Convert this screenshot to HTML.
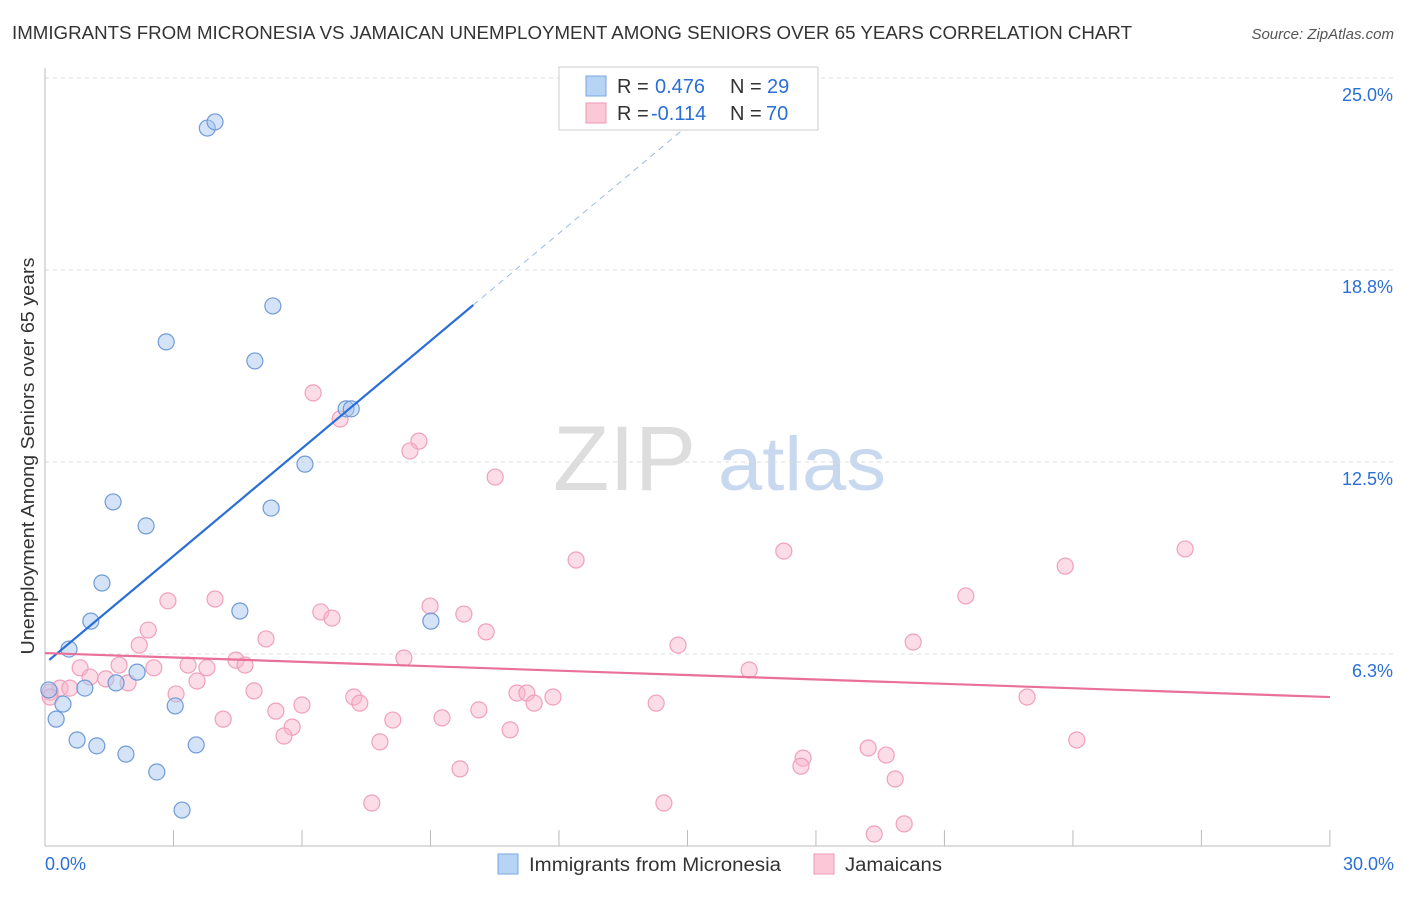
<!DOCTYPE html>
<html><head><meta charset="utf-8"><style>
body{margin:0;background:#fff;font-family:"Liberation Sans",sans-serif;}
svg text{font-family:"Liberation Sans",sans-serif;}
</style></head><body>
<svg id="chart" width="1406" height="892" xmlns="http://www.w3.org/2000/svg">
<text x="12" y="39" font-size="18" fill="#333" textLength="1120" lengthAdjust="spacingAndGlyphs">IMMIGRANTS FROM MICRONESIA VS JAMAICAN UNEMPLOYMENT AMONG SENIORS OVER 65 YEARS CORRELATION CHART</text>
<text x="1394" y="39" font-size="15" fill="#555" text-anchor="end" font-style="italic">Source: ZipAtlas.com</text>
<text transform="translate(34,456) rotate(-90)" font-size="18" fill="#333" text-anchor="middle" textLength="397" lengthAdjust="spacingAndGlyphs">Unemployment Among Seniors over 65 years</text>
<g><text x="553" y="490" font-size="92" fill="#ddd" font-family="Liberation Serif,serif">ZIP</text><text x="718" y="490" font-size="76" fill="#c8d8ef" textLength="168" lengthAdjust="spacingAndGlyphs">atlas</text></g>
<g id="grid"></g><g id="axes"></g><g id="marks"></g>
<g>
<rect x="559" y="67" width="259" height="63" fill="#fff" stroke="#ccc"/>
<rect x="586" y="76" width="20" height="20" fill="#b8d4f5" stroke="#7aa6e0"/>
<rect x="586" y="103" width="20" height="20" fill="#fbc8d8" stroke="#ee9ab4"/>
<text x="617" y="93" font-size="20" fill="#333">R =</text>
<text x="655" y="93" font-size="20" fill="#2a6fd6">0.476</text>
<text x="730" y="93" font-size="20" fill="#333">N =</text>
<text x="767" y="93" font-size="20" fill="#2a6fd6">29</text>
<text x="617" y="120" font-size="20" fill="#333">R =</text>
<text x="651" y="120" font-size="20" fill="#2a6fd6">-0.114</text>
<text x="730" y="120" font-size="20" fill="#333">N =</text>
<text x="766" y="120" font-size="20" fill="#2a6fd6">70</text>
</g>
<g>
<rect x="498" y="854" width="20" height="20" fill="#b8d4f5" stroke="#7aa6e0"/>
<text x="529" y="871" font-size="19" fill="#333" textLength="252" lengthAdjust="spacingAndGlyphs">Immigrants from Micronesia</text>
<rect x="814" y="854" width="20" height="20" fill="#fbc8d8" stroke="#ee9ab4"/>
<text x="845" y="871" font-size="19" fill="#333" textLength="97" lengthAdjust="spacingAndGlyphs">Jamaicans</text>
</g>
</svg>
<script>
const xTicks=[0,3,6,9,12,15,18,21,24,27,30];
const yTicks=[6.25,12.5,18.75,25];
const yTickLabels=["6.3%","12.5%","18.8%","25.0%"];
const blueX=[3.79,3.97,5.32,2.83,4.9,7.03,7.15,6.07,1.59,2.36,5.28,1.33,4.55,1.07,9.01,0.56,2.15,1.66,0.09,0.93,0.42,3.04,0.26,0.75,1.21,3.53,1.89,2.61,3.2];
const blueY=[23.37,23.57,17.58,16.41,15.79,14.23,14.23,12.43,11.2,10.42,11.0,8.56,7.65,7.32,7.32,6.41,5.66,5.31,5.08,5.14,4.62,4.56,4.13,3.45,3.26,3.29,2.99,2.41,1.17];
const pinkX=[6.26,6.89,8.73,8.52,10.51,12.4,17.25,26.62,23.82,21.5,2.87,3.97,8.99,9.78,6.44,6.7,2.41,10.3,5.16,2.2,14.78,20.27,0.82,1.73,2.54,3.34,3.78,4.46,4.67,8.38,16.44,1.05,1.42,1.94,3.55,0.35,0.58,0.12,3.06,4.88,7.21,7.35,11.02,11.25,11.42,11.86,10.13,14.27,22.93,6.0,5.39,4.16,5.77,8.12,9.27,5.58,10.86,7.82,24.09,17.7,19.22,19.64,17.65,9.69,19.85,7.63,14.45,19.36,20.06,0.12];
const pinkY=[14.75,13.9,13.18,12.86,12.01,9.31,9.6,9.67,9.11,8.14,7.98,8.04,7.81,7.55,7.62,7.42,7.03,6.97,6.74,6.54,6.54,6.64,5.8,5.89,5.8,5.89,5.8,6.05,5.89,6.12,5.73,5.5,5.44,5.31,5.37,5.14,5.14,5.01,4.95,5.05,4.85,4.65,4.98,4.98,4.65,4.85,4.43,4.65,4.85,4.59,4.39,4.13,3.87,4.1,4.17,3.58,3.78,3.39,3.45,2.86,3.19,2.96,2.6,2.51,2.18,1.4,1.4,0.39,0.72,4.85];
const blueFit=[5.94,1.167];
const pinkFit=[6.28,-0.0477];
const X=v=>45+v*42.83, Y=v=>846-v*30.72;
const NS="http://www.w3.org/2000/svg";
function mk(p,t,a){const e=document.createElementNS(NS,t);for(const k in a)e.setAttribute(k,a[k]);p.appendChild(e);return e;}
const grid=document.getElementById('grid'),axes=document.getElementById('axes'),marks=document.getElementById('marks');
yTicks.forEach((v,i)=>{
const l=mk(grid,'line',{x1:45,x2:1394,y1:Y(v),y2:Y(v),stroke:'#ddd','stroke-dasharray':'4,4'});


const t=mk(axes,'text',{x:1393,y:Y(v)+23,'font-size':18,fill:'#2a6fd6','text-anchor':'end'});t.textContent=yTickLabels[i];


});
const ax=mk(axes,'line',{x1:45,x2:1330,y1:846,y2:846,stroke:'#bbb'});


const ay=mk(axes,'line',{x1:45,x2:45,y1:68,y2:846,stroke:'#bbb'});


xTicks.forEach(v=>{const t=mk(axes,'line',{x1:X(v),x2:X(v),y1:830,y2:846,stroke:'#bbb'});

});
const x0=mk(axes,'text',{x:45,y:870,'font-size':18,fill:'#2a6fd6'});x0.textContent='0.0%';


const x1=mk(axes,'text',{x:1394,y:870,'font-size':18,fill:'#2a6fd6','text-anchor':'end'});x1.textContent='30.0%';


pinkX.forEach((v,i)=>{const c=mk(marks,'circle',{cx:X(v),cy:Y(pinkY[i]),r:8,fill:'rgba(248,180,202,0.45)',stroke:'#f0a0bb','stroke-width':1.2});

});
blueX.forEach((v,i)=>{const c=mk(marks,'circle',{cx:X(v),cy:Y(blueY[i]),r:8,fill:'rgba(170,200,240,0.5)',stroke:'#6f9bd8','stroke-width':1.2});

});
const bl=mk(marks,'line',{x1:X(0.1),y1:Y(blueFit[0]+blueFit[1]*0.1),x2:X(10),y2:Y(blueFit[0]+blueFit[1]*10),stroke:'#2a6fd6','stroke-width':2.2});


const bd=mk(marks,'line',{x1:X(10),y1:Y(blueFit[0]+blueFit[1]*10),x2:X(15.1),y2:Y(blueFit[0]+blueFit[1]*15.1),stroke:'#9bbbe6','stroke-width':1,'stroke-dasharray':'6,5'});


const pl=mk(marks,'line',{x1:X(0),y1:Y(pinkFit[0]),x2:X(30),y2:Y(pinkFit[0]+pinkFit[1]*30),stroke:'#e8709a','stroke-width':2.2});


</script>
</body></html>
